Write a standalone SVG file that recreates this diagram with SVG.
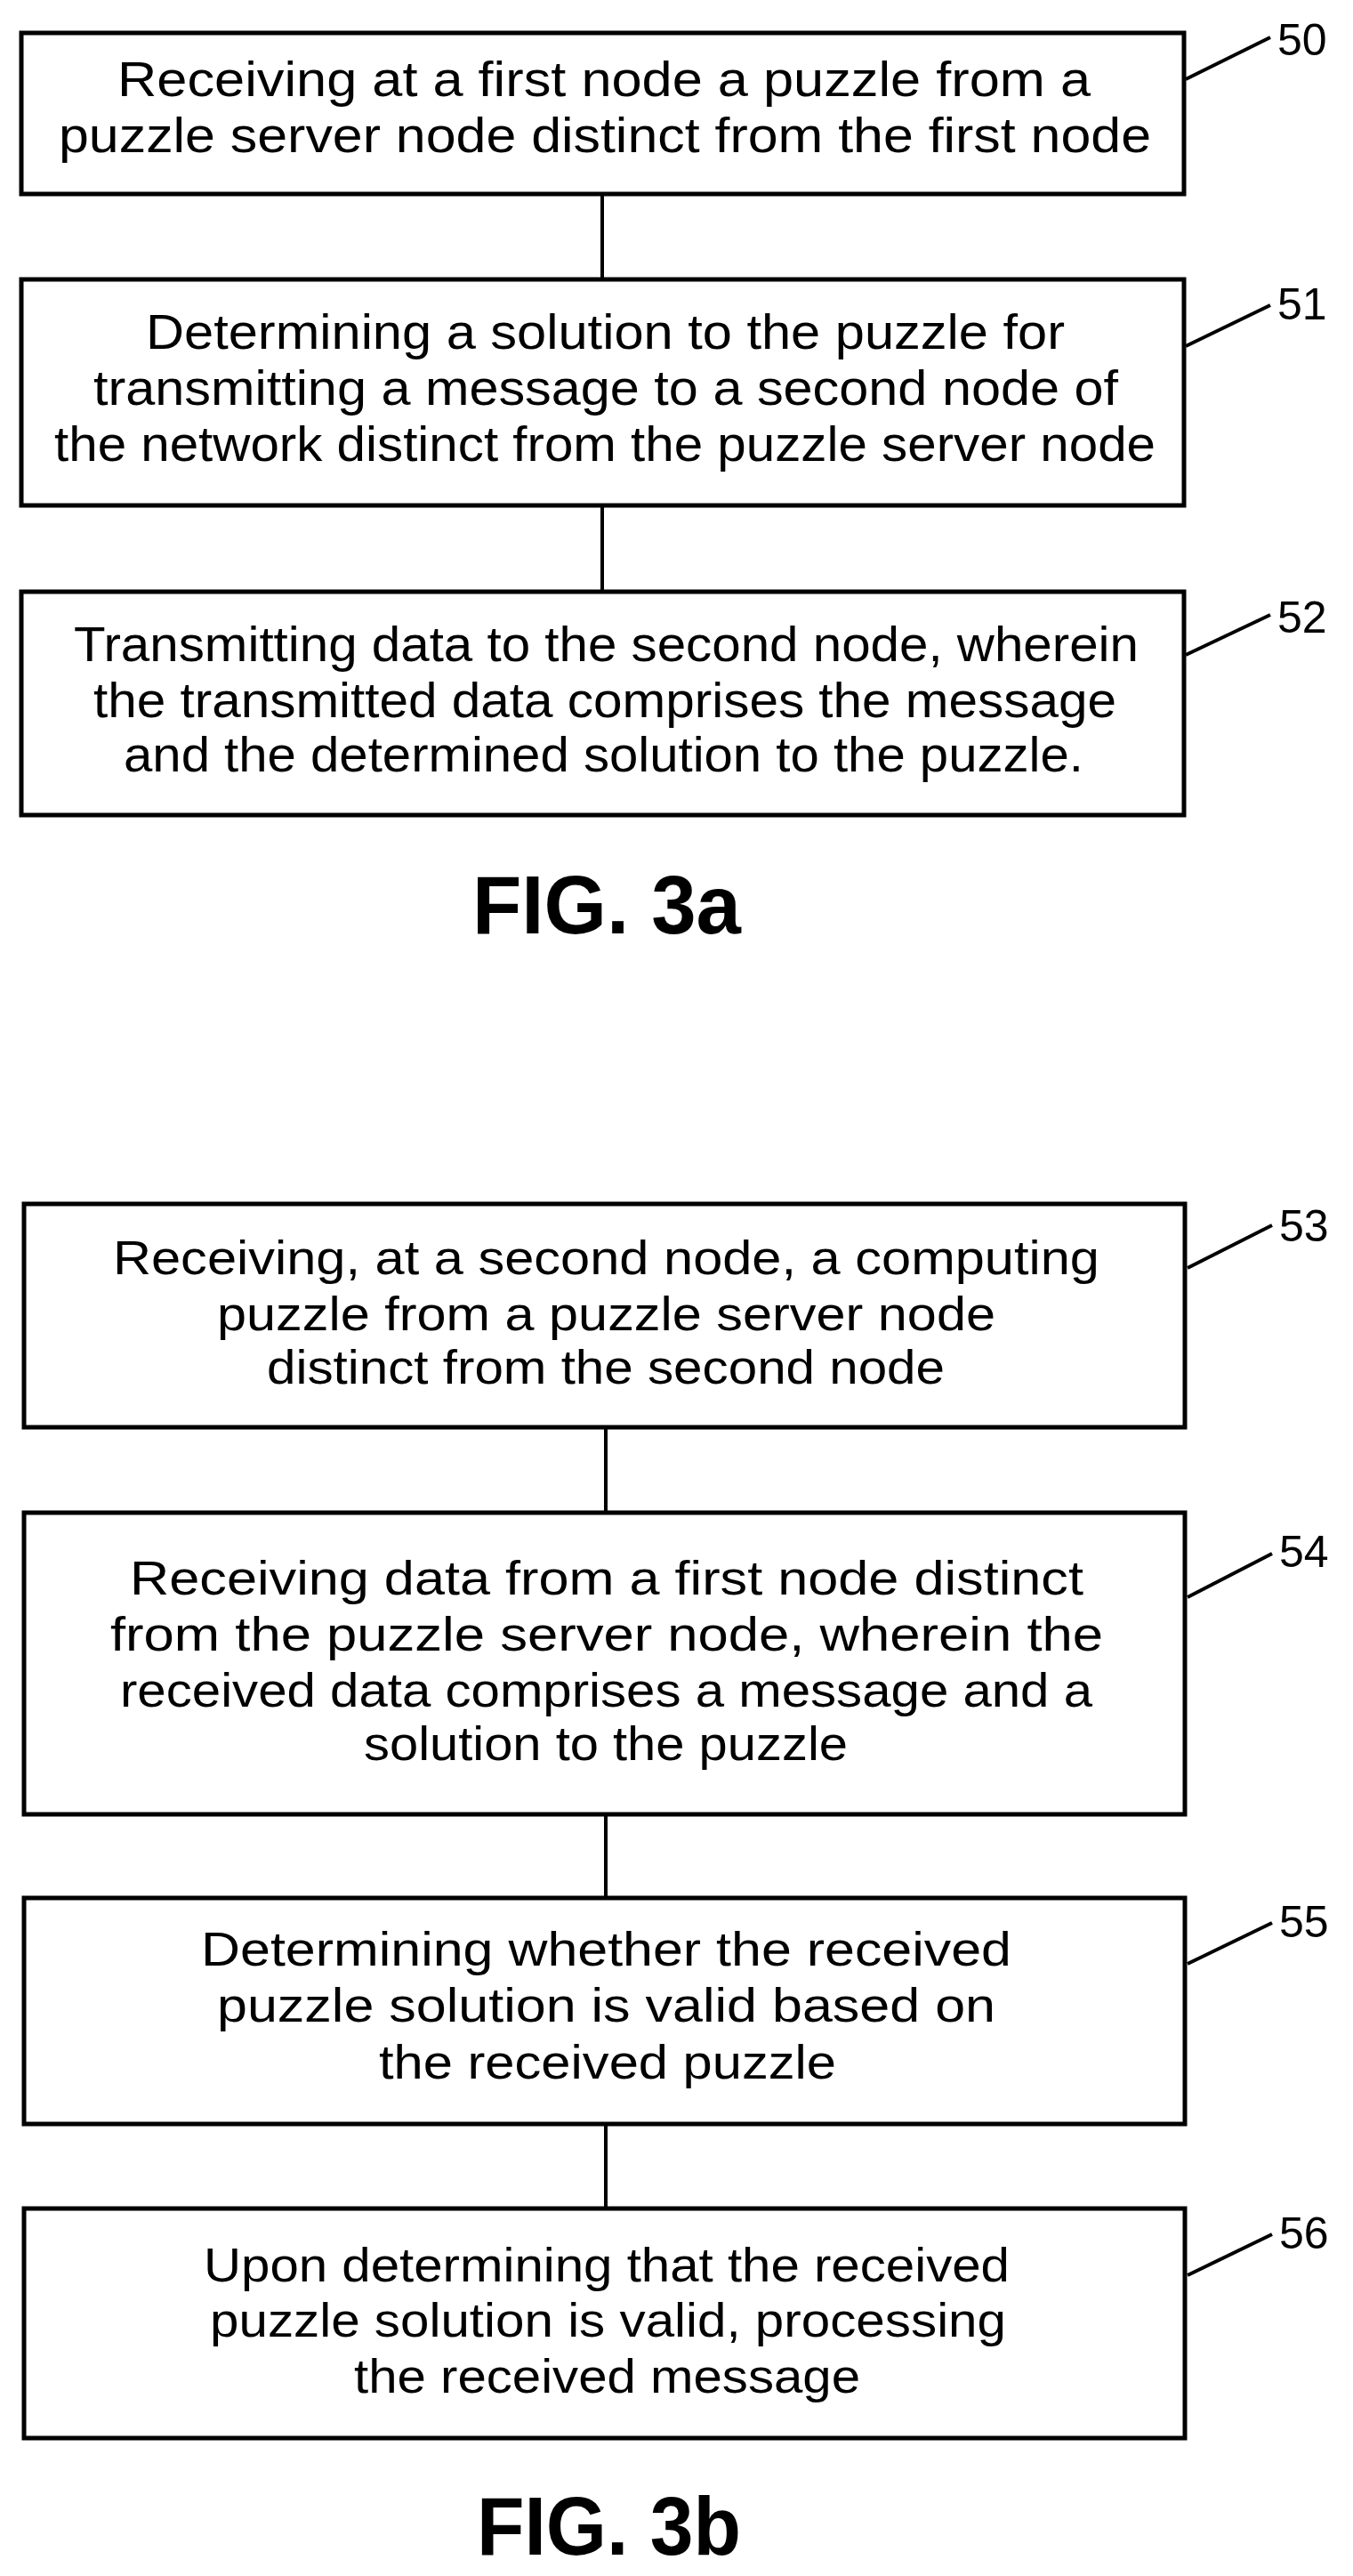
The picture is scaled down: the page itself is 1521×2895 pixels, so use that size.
<svg xmlns="http://www.w3.org/2000/svg" width="1521" height="2895" viewBox="0 0 1521 2895">
<style>
.b{fill:#fff;stroke:#000;stroke-width:5}
.c{stroke:#000;stroke-width:4;fill:none}
.t{font-family:"Liberation Sans",Arial,sans-serif;font-size:56px;fill:#000}
.s{font-family:"Liberation Sans",Arial,sans-serif;font-size:54px;fill:#000}
.n{font-family:"Liberation Sans",Arial,sans-serif;font-size:50px;fill:#000}
.f{font-family:"Liberation Sans",Arial,sans-serif;font-size:92px;font-weight:bold;fill:#000}
</style>
<rect width="1521" height="2895" fill="#fff"/>
<g id="connectors">
<line class="c" x1="677" y1="218" x2="677" y2="314"/>
<line class="c" x1="677" y1="568" x2="677" y2="665"/>
<line class="c" x1="681" y1="1604" x2="681" y2="1700"/>
<line class="c" x1="681" y1="2039" x2="681" y2="2133"/>
<line class="c" x1="681" y1="2387" x2="681" y2="2482"/>
<line class="c" x1="1333" y1="89" x2="1428" y2="42"/>
<line class="c" x1="1333" y1="389" x2="1428" y2="343"/>
<line class="c" x1="1333" y1="736" x2="1428" y2="691"/>
<line class="c" x1="1335" y1="1425" x2="1430" y2="1377"/>
<line class="c" x1="1335" y1="1795" x2="1430" y2="1746"/>
<line class="c" x1="1335" y1="2207" x2="1430" y2="2161"/>
<line class="c" x1="1335" y1="2557" x2="1430" y2="2511"/>
</g>
<g id="n50">
<rect class="b" x="24" y="37" width="1307" height="181"/>
<text class="t" x="132" y="108" textLength="1094" lengthAdjust="spacingAndGlyphs">Receiving at a first node a puzzle from a</text>
<text class="t" x="66" y="171" textLength="1228" lengthAdjust="spacingAndGlyphs">puzzle server node distinct from the first node</text>
<text class="n" x="1436" y="62">50</text>
</g>
<g id="n51">
<rect class="b" x="24" y="314" width="1307" height="254"/>
<text class="t" x="164" y="392" textLength="1033" lengthAdjust="spacingAndGlyphs">Determining a solution to the puzzle for</text>
<text class="t" x="105" y="455" textLength="1152" lengthAdjust="spacingAndGlyphs">transmitting a message to a second node of</text>
<text class="t" x="61" y="518" textLength="1238" lengthAdjust="spacingAndGlyphs">the network distinct from the puzzle server node</text>
<text class="n" x="1436" y="359">51</text>
</g>
<g id="n52">
<rect class="b" x="24" y="665" width="1307" height="251"/>
<text class="t" x="83" y="743" textLength="1197" lengthAdjust="spacingAndGlyphs">Transmitting data to the second node, wherein</text>
<text class="t" x="105" y="806" textLength="1150" lengthAdjust="spacingAndGlyphs">the transmitted data comprises the message</text>
<text class="t" x="139" y="867" textLength="1079" lengthAdjust="spacingAndGlyphs">and the determined solution to the puzzle.</text>
<text class="n" x="1436" y="711">52</text>
</g>
<text class="f" x="531" y="1049" textLength="302" lengthAdjust="spacingAndGlyphs">FIG. 3a</text>
<g id="n53">
<rect class="b" x="27" y="1353" width="1305" height="251"/>
<text class="s" x="127" y="1432" textLength="1109" lengthAdjust="spacingAndGlyphs">Receiving, at a second node, a computing</text>
<text class="s" x="244" y="1495" textLength="875" lengthAdjust="spacingAndGlyphs">puzzle from a puzzle server node</text>
<text class="s" x="300" y="1555" textLength="762" lengthAdjust="spacingAndGlyphs">distinct from the second node</text>
<text class="n" x="1438" y="1395">53</text>
</g>
<g id="n54">
<rect class="b" x="27" y="1700" width="1305" height="339"/>
<text class="s" x="146" y="1792" textLength="1072" lengthAdjust="spacingAndGlyphs">Receiving data from a first node distinct</text>
<text class="s" x="124" y="1855" textLength="1116" lengthAdjust="spacingAndGlyphs">from the puzzle server node, wherein the</text>
<text class="s" x="135" y="1918" textLength="1093" lengthAdjust="spacingAndGlyphs">received data comprises a message and a</text>
<text class="s" x="409" y="1978" textLength="544" lengthAdjust="spacingAndGlyphs">solution to the puzzle</text>
<text class="n" x="1438" y="1761">54</text>
</g>
<g id="n55">
<rect class="b" x="27" y="2133" width="1305" height="254"/>
<text class="s" x="226" y="2209" textLength="911" lengthAdjust="spacingAndGlyphs">Determining whether the received</text>
<text class="s" x="244" y="2272" textLength="875" lengthAdjust="spacingAndGlyphs">puzzle solution is valid based on</text>
<text class="s" x="426" y="2336" textLength="514" lengthAdjust="spacingAndGlyphs">the received puzzle</text>
<text class="n" x="1438" y="2177">55</text>
</g>
<g id="n56">
<rect class="b" x="27" y="2482" width="1305" height="258"/>
<text class="s" x="229" y="2564" textLength="906" lengthAdjust="spacingAndGlyphs">Upon determining that the received</text>
<text class="s" x="236" y="2626" textLength="895" lengthAdjust="spacingAndGlyphs">puzzle solution is valid, processing</text>
<text class="s" x="398" y="2689" textLength="569" lengthAdjust="spacingAndGlyphs">the received message</text>
<text class="n" x="1438" y="2527">56</text>
</g>
<text class="f" x="536" y="2871" textLength="297" lengthAdjust="spacingAndGlyphs">FIG. 3b</text>
</svg>
